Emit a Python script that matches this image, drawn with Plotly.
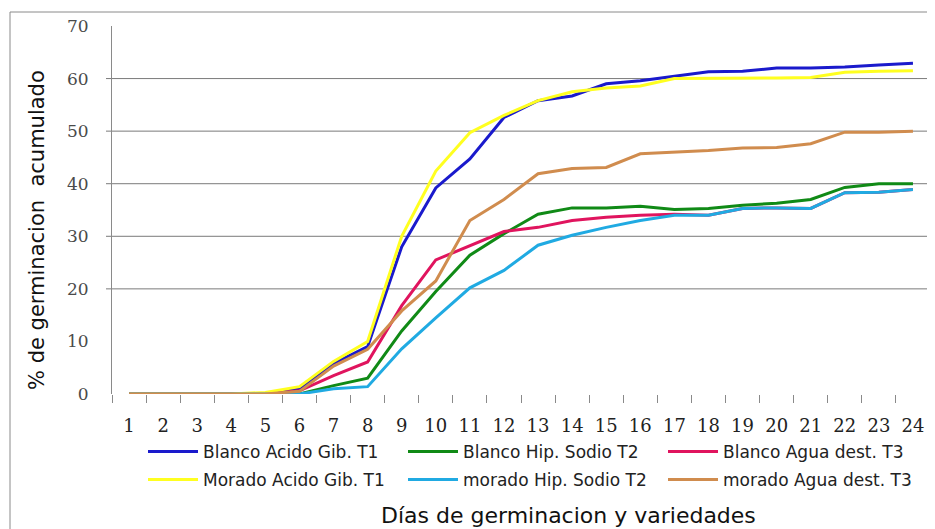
import plotly.graph_objects as go

days = [str(i) for i in range(1, 25)]

blanco_acido_t1 = [0, 0, 0, 0, 0, 1.0, 5.8, 9.0, 28.0, 39.2, 44.7, 52.6, 55.8, 56.7, 59.0, 59.6, 60.5, 61.3, 61.4, 62.0, 62.0, 62.2, 62.6, 62.9]
blanco_hip_t2 = [0, 0, 0, 0, 0, 0.0, 1.6, 3.0, 12.0, 19.5, 26.4, 30.5, 34.2, 35.4, 35.4, 35.7, 35.1, 35.3, 35.9, 36.3, 37.0, 39.3, 40.0, 40.0]
blanco_agua_t3 = [0, 0, 0, 0, 0, 0.6, 3.5, 6.1, 16.8, 25.5, 28.2, 30.9, 31.7, 33.0, 33.6, 34.0, 34.2, 34.0, 35.3, 35.4, 35.3, 38.3, 38.4, 38.9]
morado_acido_t1 = [0, 0, 0, 0, 0.3, 1.4, 6.2, 10.0, 30.0, 42.4, 49.7, 53.0, 55.8, 57.5, 58.2, 58.6, 60.0, 60.0, 60.0, 60.1, 60.2, 61.2, 61.4, 61.5]
morado_hip_t2 = [0, 0, 0, 0, 0, 0.0, 1.0, 1.4, 8.6, 14.5, 20.2, 23.5, 28.3, 30.2, 31.7, 33.0, 34.0, 34.0, 35.3, 35.4, 35.3, 38.3, 38.4, 38.9]
morado_agua_t3 = [0, 0, 0, 0, 0, 0.5, 5.3, 8.5, 15.8, 21.5, 33.0, 37.0, 41.9, 42.9, 43.1, 45.7, 46.0, 46.3, 46.8, 46.9, 47.6, 49.8, 49.8, 50.0]

series_names = ["Blanco Acido Gib. T1", "Blanco Hip. Sodio T2", "Blanco Agua dest. T3",
                "Morado Acido Gib. T1", "morado Hip. Sodio T2", "morado Agua dest. T3"]
series_values = [blanco_acido_t1, blanco_hip_t2, blanco_agua_t3,
                 morado_acido_t1, morado_hip_t2, morado_agua_t3]
series_colors = ["#1A1ACC", "#108A16", "#E0145E", "#FFFF20", "#20AAE2", "#D08C4E"]
legend_ids = ["legend", "legend", "legend", "legend2", "legend2", "legend2"]

y_ticks = [0, 10, 20, 30, 40, 50, 60, 70]
grid_values = [20, 30, 40, 50, 60]

fig = go.Figure()
for name, vals, col, lg in zip(series_names, series_values, series_colors, legend_ids):
    fig.add_trace(go.Scatter(x=days, y=vals, mode="lines", name=name,
                             line=dict(color=col, width=3), legend=lg))

# the page shows the figure 8px in from its top-left corner
OFF = 8
W, H = 935 - OFF, 529 - OFF
# plot area in reference pixels: x 112..930, y 26..394
L = 112 - OFF
T = 26 - OFF
R = W - (930 - OFF)
B = H - (394 - OFF)
pw = W - L - R
ph = H - T - B

def px_x(x):
    return (x - OFF - L) / pw

def px_y(y):
    return (H - B - (y - OFF)) / ph

shapes = []
for g in grid_values:
    shapes.append(dict(type="line", xref="paper", yref="y", x0=px_x(106), x1=1.0,
                       y0=g, y1=g, line=dict(color="#7a7a7a", width=1), layer="below"))
shapes.append(dict(type="rect", xref="paper", yref="paper", x0=px_x(10), x1=px_x(960),
                   y0=px_y(560), y1=px_y(12), line=dict(color="#8a8a8a", width=1)))

legend_font = dict(family="DejaVu Sans", size=17, color="#222222")

fig.update_layout(
    width=W, height=H,
    margin=dict(l=L, r=R, t=T, b=B, autoexpand=False),
    paper_bgcolor="white", plot_bgcolor="white",
    shapes=shapes,
    xaxis=dict(type="category", showgrid=False, showline=False, zeroline=False,
               ticks="outside", tickson="boundaries", ticklen=8, tickcolor="#8a8a8a",
               ticklabelstandoff=19,
               tickfont=dict(family="DejaVu Serif", size=18, color="#222222"),
               range=[-0.5, 23.5]),
    yaxis=dict(range=[0, 70], tickvals=y_ticks, showgrid=False, zeroline=False,
               showline=True, linecolor="#8a8a8a", linewidth=1, ticks="",
               ticklabelstandoff=19,
               tickfont=dict(family="DejaVu Serif", size=17, color="#4a4a4a")),
    legend=dict(orientation="h", x=px_x(143), y=px_y(452), xanchor="left", yanchor="middle",
                entrywidth=195, entrywidthmode="pixels", font=legend_font, itemwidth=50,
                bgcolor="rgba(0,0,0,0)", tracegroupgap=0),
    legend2=dict(orientation="h", x=px_x(143), y=px_y(480), xanchor="left", yanchor="middle",
                 entrywidth=195, entrywidthmode="pixels", font=legend_font, itemwidth=50,
                 bgcolor="rgba(0,0,0,0)", tracegroupgap=0),
    annotations=[
        dict(text="Días de germinacion y variedades", xref="paper", yref="paper",
             x=px_x(568), y=px_y(515), showarrow=False, xanchor="center", yanchor="middle",
             font=dict(family="DejaVu Sans", size=22, color="#111111")),
        dict(text="% de germinacion  acumulado", xref="paper", yref="paper",
             x=px_x(37), y=px_y(230), showarrow=False, xanchor="center", yanchor="middle",
             textangle=-90, font=dict(family="DejaVu Sans", size=21, color="#111111")),
    ],
    showlegend=True,
)

fig.write_html("out.html")
